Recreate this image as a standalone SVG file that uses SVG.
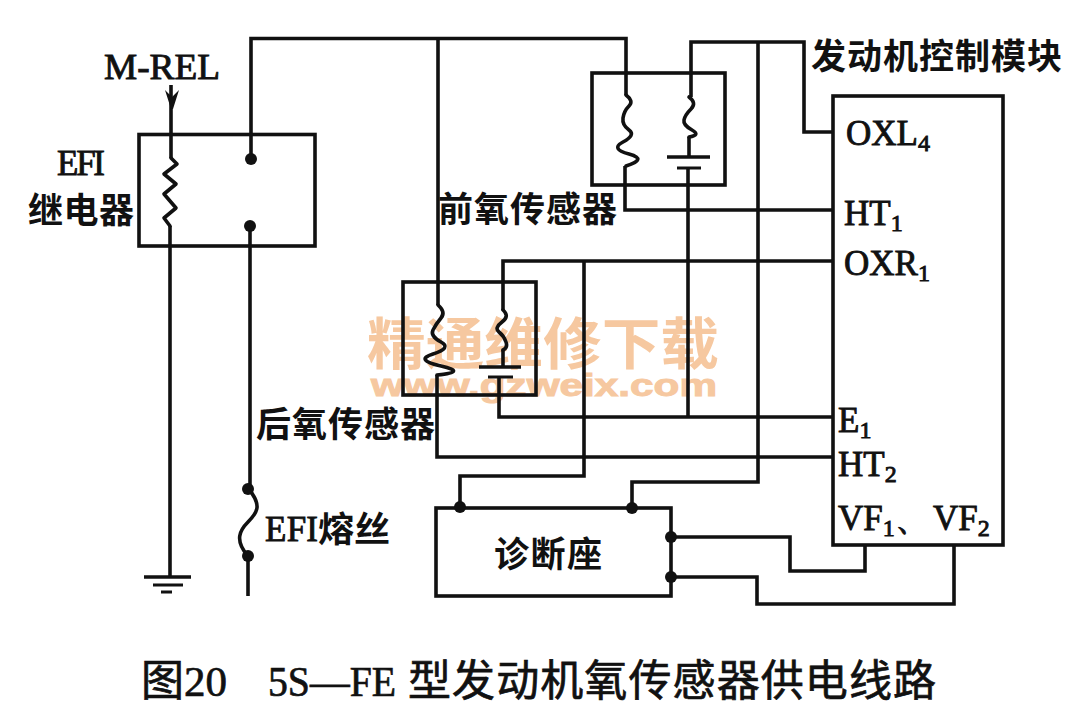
<svg xmlns="http://www.w3.org/2000/svg" width="1086" height="714" viewBox="0 0 1086 714">
<style>
.w{fill:none;stroke:#111;stroke-width:3.6;stroke-linejoin:miter}
.t{stroke-width:3}
.c{stroke-width:3.6;stroke-linejoin:round;stroke-linecap:round}
.d{fill:#111}
text{fill:#111}
.l{font-family:"Liberation Serif",serif;font-size:35px;stroke:#111;stroke-width:.9}
.s{font-size:24px}
.z{font-family:"Noto Sans CJK SC",sans-serif;font-weight:700;font-size:35px}
.m{font-family:"Liberation Serif","Noto Sans CJK SC",serif;font-size:43px;stroke:#111;stroke-width:.7}
</style>
<rect width="1086" height="714" fill="#fff"/>
<g id="watermark">
<text x="367" y="364" font-family="Noto Sans CJK SC,sans-serif" font-size="56" font-weight="700" style="fill:#f6c8a0" textLength="352" lengthAdjust="spacingAndGlyphs">精通维修下载</text>
<text x="371" y="396" font-family="Liberation Sans,sans-serif" font-size="31" font-weight="700" style="fill:#f6c8a0;stroke:#f6c8a0;stroke-width:1" textLength="346" lengthAdjust="spacingAndGlyphs">www.gzweix.com</text>
</g>
<g id="connectors">
<path class="w" d="M251 159V38.500H626V95"/>
<path class="w" d="M438 39V305"/>
<path class="w" d="M625 166V210H833"/>
<path class="w" d="M691 97V42H804V132H833"/>
<path class="w" d="M758 42V482H632V508"/>
<path class="w" d="M688 168V417"/>
<path class="w" d="M689 137V157"/>
<path class="w" d="M437 375V457H833"/>
<path class="w" d="M503 310V261H833"/>
<path class="w" d="M503 350V367"/>
<path class="w" d="M499 377V417H833"/>
<path class="w" d="M584 261V476H460V507"/>
<path class="w" d="M671 537H790V571H865V545"/>
<path class="w" d="M671 577H757V604H954V545"/>
<path class="w" d="M171 85V158"/>
<path class="w" d="M170 226V577"/>
<path class="w" d="M250 226V488"/>
<path class="w" d="M248 556V596"/>
<path class="c w" d="M248 488C262 505 258 512 248 522C240 530 234 540 248 556"/>
<path class="c w" d="M171 158L177 164L164 174L176 184L164 194L176 208L164 218L170 226"/>
<path class="c w" d="M626 95Q634 101 629 106T623 118T629 130T623 142T629 154T626 166"/>
<path class="c w" d="M689 97Q697 103 691 109T684 120T692 130T689 137"/>
<path class="c w" d="M438 305Q446 312 441 318T433 330T441 342T433 354T441 366T437 375"/>
<path class="c w" d="M503 310Q510 316 502 322T499 332T506 342T503 350"/>
</g>
<g id="arrow"><path class="d" d="M165 90L172 97L179 90L173 109H171Z"/></g>
<g id="ground">
<path class="w" stroke-width="4" d="M144 577H191"/>
<path class="w t" d="M153 585H183M161 592H172"/>
</g>
<g id="relay">
<rect class="w" x="139" y="134.500" width="176" height="111.500"/>
<circle class="d" cx="251" cy="159" r="6"/>
<circle class="d" cx="250" cy="226" r="6"/>
<text class="l" x="57" y="175" textLength="48">EFI</text>
<text class="z" x="28" y="223" textLength="106">继电器</text>
<text class="l" x="104" y="79" style="font-size:36px" textLength="116" lengthAdjust="spacingAndGlyphs">M-REL</text>
</g>
<g id="fuse">
<circle class="d" cx="248" cy="489" r="6"/>
<circle class="d" cx="248" cy="556" r="6"/>
<text class="l" x="265" y="541" textLength="53">EFI</text>
<text class="z" x="318" y="542" textLength="72" lengthAdjust="spacingAndGlyphs">熔丝</text>
</g>
<g id="front-sensor">
<rect class="w" x="592" y="73" width="133" height="112"/>
<path class="w" d="M667 157H710"/>
<path class="w t" d="M677 168H701"/>
<text class="z" x="438" y="222" textLength="179">前氧传感器</text>
</g>
<g id="rear-sensor">
<rect class="w" x="403" y="282" width="133" height="113"/>
<path class="w" d="M479 367H521"/>
<path class="w t" d="M488 377H513"/>
<text class="z" x="256" y="437" textLength="179">后氧传感器</text>
</g>
<g id="ecm">
<rect class="w" x="833" y="96" width="170" height="449"/>
<text class="z" x="811" y="69" textLength="251">发动机控制模块</text>
<text class="l" x="846" y="145">OXL<tspan class="s" dy="6">4</tspan></text>
<text class="l" x="844" y="225">HT<tspan class="s" dy="6">1</tspan></text>
<text class="l" x="844" y="275">OXR<tspan class="s" dy="6">1</tspan></text>
<text class="l" x="838" y="432">E<tspan class="s" dy="6">1</tspan></text>
<text class="l" x="838" y="476">HT<tspan class="s" dy="6">2</tspan></text>
<text class="l" x="838" y="530">VF<tspan class="s" dy="6">1</tspan><tspan dy="-6">、</tspan><tspan x="933">VF</tspan><tspan class="s" dy="6">2</tspan></text>
</g>
<g id="diagnostic">
<rect class="w" x="436" y="508" width="235" height="88"/>
<circle class="d" cx="460" cy="507" r="6"/>
<circle class="d" cx="632" cy="508" r="6"/>
<circle class="d" cx="671" cy="537" r="6"/>
<circle class="d" cx="671" cy="577" r="6"/>
<text class="z" x="494" y="567" textLength="108">诊断座</text>
</g>
<g id="caption">
<text class="m" y="696"><tspan x="141">图20</tspan><tspan x="268" textLength="128" lengthAdjust="spacingAndGlyphs">5S—FE</tspan><tspan x="408" textLength="528">型发动机氧传感器供电线路</tspan></text>
</g>
</svg>
